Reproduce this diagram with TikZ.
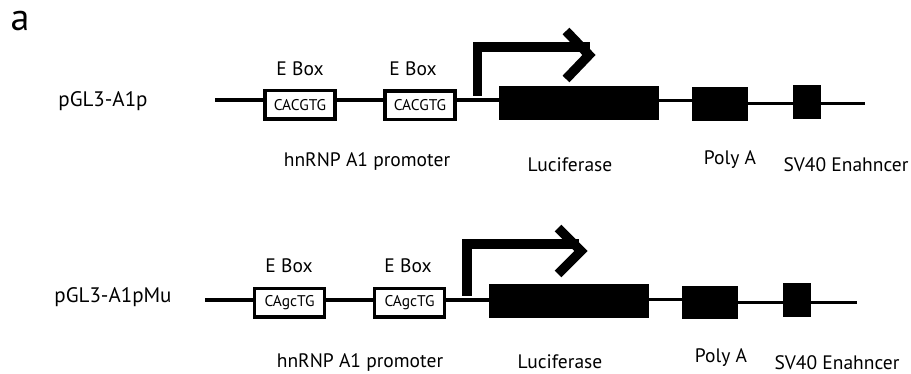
\documentclass[tikz,border=0pt]{standalone}
\usepackage{fontspec}
\setmainfont{PT Sans}
\usetikzlibrary{arrows,shapes}
\begin{document}
\begin{tikzpicture}[x=1pt,y=-1pt]
\tikzstyle{every node}+=[inner sep=0pt]
\tikzstyle{ebox}=[draw=black, line width=3.5pt, minimum width=70pt, minimum height=28.5pt, font=\fontsize{15.5}{15.5}\selectfont]
\tikzstyle{blk}=[fill=black, minimum height=34pt]
\tikzstyle{lbl}=[font=\fontsize{19.5}{19.5}\selectfont]
\tikzstyle{dna}=[black, line width=3.5pt]
\tikzstyle{tss}=[black, line width=9.5pt, miter limit=10]
\useasboundingbox (0,0) rectangle (911,374);
\node [font=\fontsize{38}{38}\selectfont] (panel) at (20,21) {a};
\node [lbl, font=\fontsize{21}{21}\selectfont] (nameA) at (103,101) {pGL3-A1p};
\coordinate (startA) at (215,100);
\node [ebox] (eboxA1) at (300,105) {CACGTG};
\node [ebox] (eboxA2) at (420,105.5) {CACGTG};
\coordinate (tssA) at (477.5,100);
\node [blk, minimum width=160pt] (lucA) at (579,103) {};
\node [blk, minimum width=56pt] (polyA) at (720,104) {};
\node [blk, minimum width=28pt] (svA) at (807,102) {};
\coordinate (endA) at (865,104);
\node [lbl] at (300,69) {E Box};
\node [lbl] at (413,69) {E Box};
\node [lbl] at (367,162) {hnRNP A1 promoter};
\node [lbl] at (570,165) {Luciferase};
\node [lbl] at (730,160) {Poly A};
\node [lbl] at (846,165) {SV40 Enahncer};
\draw [dna] (startA) -- (eboxA1.west |- startA);
\draw [dna] (eboxA1.east |- startA) -- (eboxA2.west |- startA);
\draw [dna] (eboxA2.east |- startA) -- (tssA) -- (lucA.west |- tssA);
\draw [dna, line width=3pt] (lucA.east |- 0,101) -- (polyA.west |- 0,101);
\draw [dna, line width=3pt] (polyA.east |- endA) -- (svA.west |- endA);
\draw [dna, line width=3pt] (svA.east |- endA) -- (endA);
\draw [tss] ([yshift=4pt]tssA) -- ++(0,-49) -- ++(112,0);
\draw [tss] (566,31) -- (589,55) -- (566,79);
\node [lbl, font=\fontsize{21}{21}\selectfont] (nameB) at (113,297) {pGL3-A1pMu};
\coordinate (startB) at (205,300);
\node [ebox] (eboxB1) at (289.5,303) {CAgcTG};
\node [ebox] (eboxB2) at (409.5,303) {CAgcTG};
\coordinate (tssB) at (467,300);
\node [blk, minimum width=160pt] (lucB) at (569,301) {};
\node [blk, minimum width=56pt, minimum height=33pt] (polyB) at (710,302.5) {};
\node [blk, minimum width=28pt] (svB) at (797,300) {};
\coordinate (endB) at (857,303);
\node [lbl] at (289,266) {E Box};
\node [lbl] at (408,266) {E Box};
\node [lbl] at (360,363) {hnRNP A1 promoter};
\node [lbl] at (560,362) {Luciferase};
\node [lbl] at (721,358) {Poly A};
\node [lbl] at (837,363) {SV40 Enahncer};
\draw [dna] (startB) -- (eboxB1.west |- startB);
\draw [dna] (eboxB1.east |- startB) -- (eboxB2.west |- startB);
\draw [dna] (eboxB2.east |- startB) -- (tssB) -- (lucB.west |- tssB);
\draw [dna, line width=3pt] (lucB.east |- startB) -- (polyB.west |- startB);
\draw [dna, line width=3pt] (polyB.east |- endB) -- (svB.west |- endB);
\draw [dna, line width=3pt] (svB.east |- endB) -- (endB);
\draw [tss] ([yshift=4pt]tssB) -- ++(0,-52) -- ++(112,0);
\draw [tss] (558,228) -- (581,251) -- (558,274);
\end{tikzpicture}
\end{document}
